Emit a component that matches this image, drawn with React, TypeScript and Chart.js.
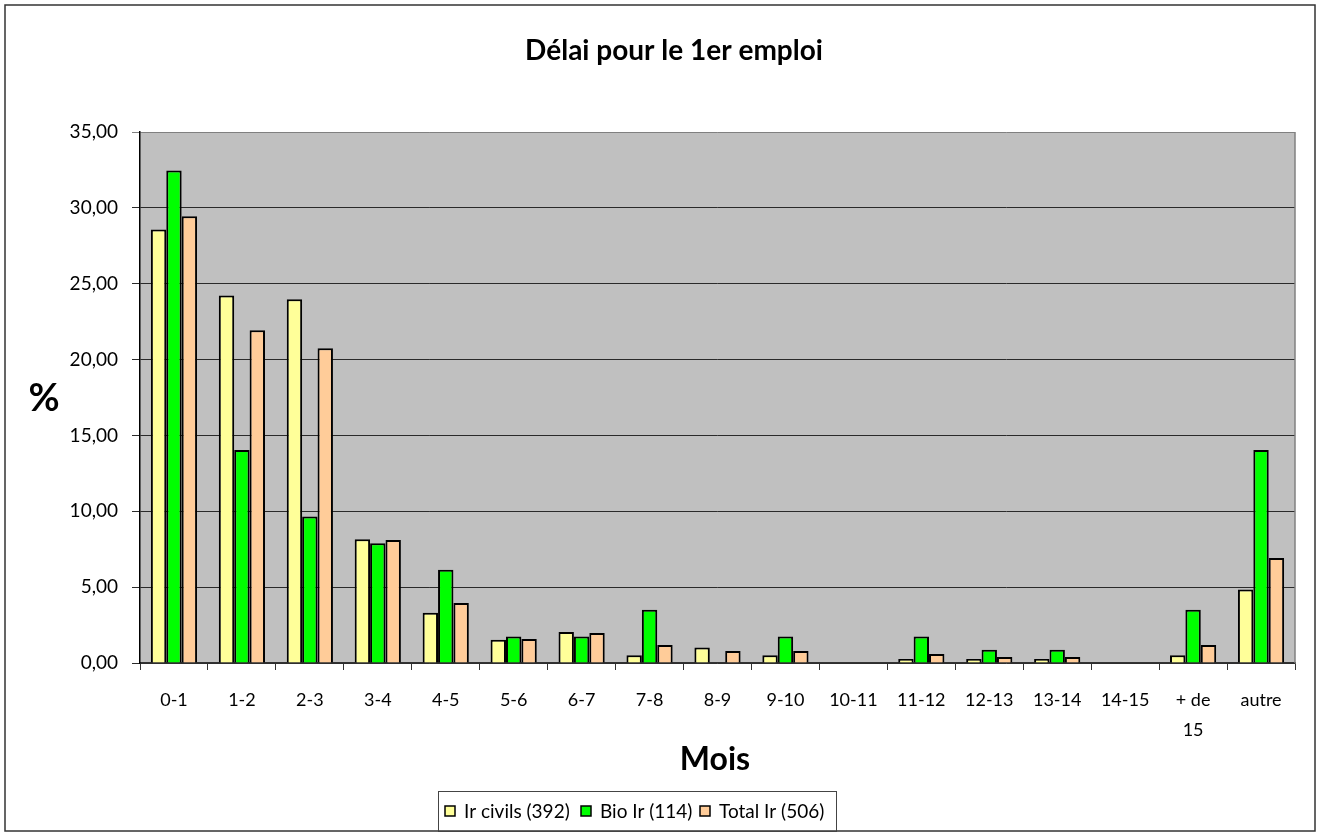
import React, { useEffect, useRef } from "react";
import { Chart, registerables } from "chart.js";

Chart.register(...registerables);

const categories: (string | string[])[] = [
  "0-1", "1-2", "2-3", "3-4", "4-5", "5-6", "6-7", "7-8", "8-9", "9-10",
  "10-11", "11-12", "12-13", "13-14", "14-15", ["+ de", "15"], "autre",
];
const irCivils = [28.57, 24.23, 23.98, 8.16, 3.32, 1.53, 2.04, 0.51, 1.02, 0.51, 0, 0.26, 0.26, 0.26, 0, 0.51, 4.85];
const bioIr = [32.46, 14.04, 9.65, 7.89, 6.14, 1.75, 1.75, 3.51, 0, 1.75, 0, 1.75, 0.88, 0.88, 0, 3.51, 14.04];
const totalIr = [29.45, 21.94, 20.75, 8.1, 3.95, 1.58, 1.98, 1.19, 0.79, 0.79, 0, 0.59, 0.4, 0.4, 0, 1.19, 6.92];
const seriesNames = ["Ir civils (392)", "Bio Ir (114)", "Total Ir (506)"];
const seriesColors = ["#FFFF99", "#00FF00", "#FFCC99"];
const titleText = "Délai pour le 1er emploi";
const xTitle = "Mois";
const yTitle = "%";

const FONT = "Lato, 'Open Sans', sans-serif";

const decorPlugin = {
  id: "decor",
  beforeDraw(chart: any) {
    const { ctx, chartArea } = chart;
    ctx.save();
    ctx.fillStyle = "#ffffff";
    ctx.fillRect(0, 0, chart.width, chart.height);
    ctx.fillStyle = "#C0C0C0";
    ctx.fillRect(chartArea.left, chartArea.top, chartArea.right - chartArea.left, chartArea.bottom - chartArea.top);
    ctx.restore();
  },
  afterDraw(chart: any) {
    const { ctx, chartArea } = chart;
    ctx.save();
    ctx.strokeStyle = "#808080";
    ctx.lineWidth = 1.5;
    ctx.beginPath();
    ctx.moveTo(chartArea.right, chartArea.top);
    ctx.lineTo(chartArea.right, chartArea.bottom);
    ctx.stroke();
    ctx.strokeStyle = "#333333";
    ctx.lineWidth = 1.5;
    ctx.strokeRect(5, 5, 1310, 826);
    ctx.fillStyle = "#000";
    ctx.textAlign = "center";
    ctx.textBaseline = "middle";
    ctx.font = `bold 28px ${FONT}`;
    ctx.fillText(titleText, 674, 51);
    ctx.font = `bold 38px ${FONT}`;
    ctx.fillText(yTitle, 44, 399);
    ctx.font = `bold 32px ${FONT}`;
    ctx.fillText(xTitle, 715, 760);
    const lx = 438, ly = 791, lw = 398, lh = 40;
    ctx.strokeStyle = "#444";
    ctx.lineWidth = 1;
    ctx.strokeRect(lx + 0.5, ly + 0.5, lw, lh);
    ctx.font = `19px ${FONT}`;
    ctx.textAlign = "left";
    const boxX = [445, 581, 700];
    const cy = 812;
    for (let i = 0; i < seriesNames.length; i++) {
      ctx.fillStyle = seriesColors[i];
      ctx.fillRect(boxX[i], cy - 6, 10, 10);
      ctx.strokeStyle = "#000";
      ctx.lineWidth = 1.5;
      ctx.strokeRect(boxX[i], cy - 6, 10, 10);
      ctx.fillStyle = "#000";
      ctx.fillText(seriesNames[i], boxX[i] + 19, cy);
    }
    ctx.restore();
  },
};

export default function App() {
  const ref = useRef<HTMLCanvasElement | null>(null);
  useEffect(() => {
    if (!ref.current) return;
    const mk = (label: string, data: number[], color: string) => ({
      label,
      data,
      backgroundColor: color,
      borderColor: "#000",
      borderWidth: 2,
      categoryPercentage: 0.68,
      barPercentage: 1,
    });
    const chart = new Chart(ref.current, {
      type: "bar",
      data: {
        labels: categories,
        datasets: [
          mk(seriesNames[0], irCivils, seriesColors[0]),
          mk(seriesNames[1], bioIr, seriesColors[1]),
          mk(seriesNames[2], totalIr, seriesColors[2]),
        ],
      },
      options: {
        animation: false,
        responsive: false,
        maintainAspectRatio: false,
        layout: { padding: { top: 132, left: 0, right: 26, bottom: 73 } },
        plugins: { legend: { display: false }, title: { display: false }, tooltip: { enabled: false } },
        scales: {
          x: {
            afterFit: (s: any) => { s.height = 100; },
            grid: { offset: true, drawOnChartArea: false, drawTicks: true, tickLength: 7, color: "#333" },
            border: { color: "#333", width: 1.5 },
            ticks: { color: "#000", font: { family: FONT, size: 18, lineHeight: "30px" }, padding: 15, maxRotation: 0, autoSkip: false },
          },
          y: {
            min: 0,
            max: 35,
            afterFit: (s: any) => { s.width = 140; },
            grid: {
              color: (c: any) => (c.tick && c.tick.value === 35 ? "#808080" : "#2a2a2a"),
              lineWidth: 1,
              tickLength: 8,
              drawTicks: true,
            },
            border: { color: "#000", width: 1.5 },
            ticks: {
              stepSize: 5,
              color: "#000",
              padding: 14,
              font: { family: FONT, size: 19 },
              callback: (v: any) => Number(v).toFixed(2).replace(".", ","),
            },
          },
        },
      },
      plugins: [decorPlugin],
    });
    return () => chart.destroy();
  }, []);
  return (
    <div style={{ position: "absolute", left: 0, top: 0, width: 1321, height: 836, background: "#fff" }}>
      <canvas ref={ref} width={1321} height={836} style={{ width: 1321, height: 836, display: "block" }} />
    </div>
  );
}
